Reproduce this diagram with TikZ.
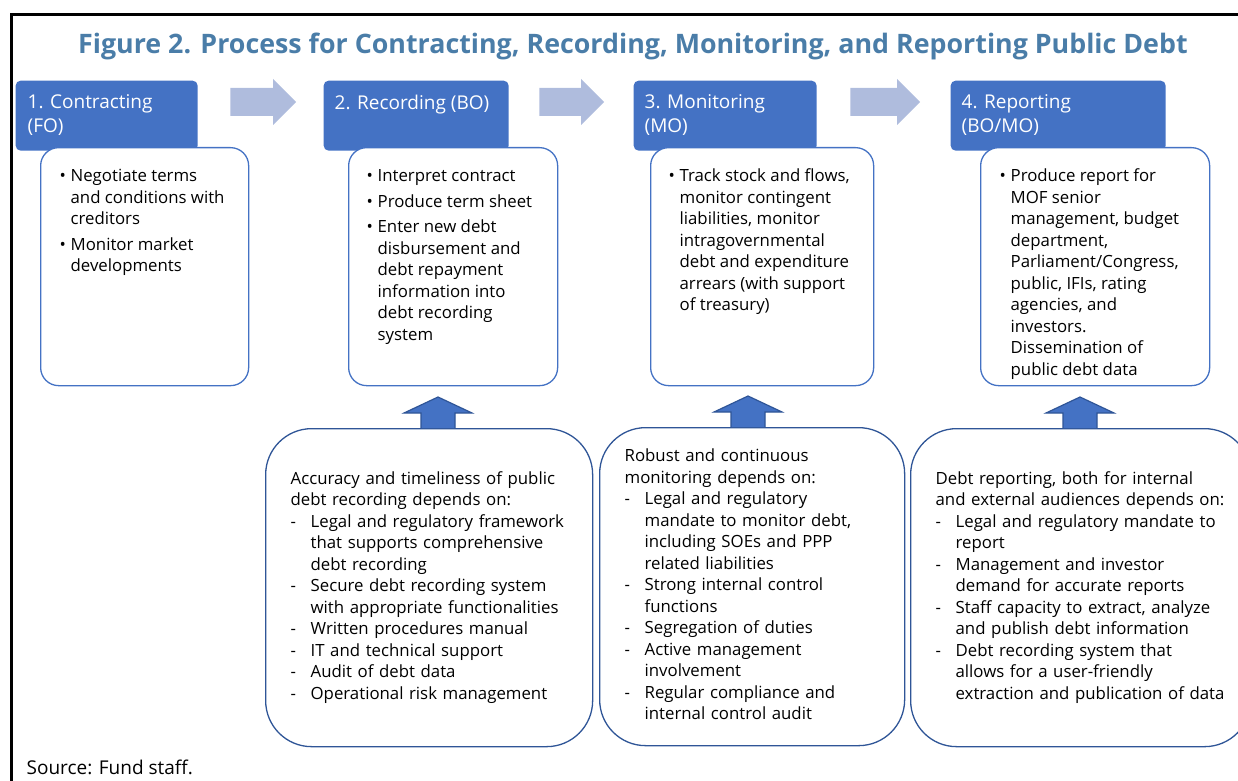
\documentclass[tikz,border=0pt]{standalone}
\usepackage{fontspec}
\setmainfont{Open Sans}
\usepackage{tikz}
\usetikzlibrary{calc}

\definecolor{headblue}{HTML}{4472C4}
\definecolor{edgeblue}{HTML}{2F5597}
\definecolor{flowblue}{HTML}{AFBCDD}
\definecolor{titleblue}{HTML}{4A7DA8}

\newcommand{\bodyfont}{\fontsize{8.4}{10.75}\selectfont}
\newcommand{\flowarrow}[2]{%
  \fill[flowblue] ($(#1)+(0,-14)$) -- ($(#2)+(-23,-14)$) -- ($(#2)+(-23,-23)$) -- (#2)
    -- ($(#2)+(-23,23)$) -- ($(#2)+(-23,14)$) -- ($(#1)+(0,14)$) -- cycle;}
\newcommand{\liftarrow}[1]{%
  \draw[fill=headblue, draw=edgeblue, line width=0.6pt] ($(#1)+(-17,0)$) -- ($(#1)+(-17,-15)$)
    -- ($(#1)+(-34,-15)$) -- ($(#1)+(0,-31)$) -- ($(#1)+(34,-15)$) -- ($(#1)+(17,-15)$) -- ($(#1)+(17,0)$);}

\begin{document}
\begin{tikzpicture}[x=0.5pt, y=-0.5pt, line width=0.65pt,
  headbox/.style={fill=headblue, rounded corners=2.5pt, anchor=north west, minimum height=35pt, inner sep=0pt},
  headtext/.style={anchor=north west, text=white, align=left, inner sep=0pt, font=\fontsize{9.5}{12.2}\selectfont},
  taskbox/.style={draw=headblue, fill=white, rounded corners=9pt, anchor=north west, minimum height=119pt, inner sep=0pt},
  tasktext/.style={anchor=north west, inner sep=0pt, font=\bodyfont},
  needbox/.style={draw=edgeblue, fill=white, rounded corners=23pt, anchor=north west, minimum height=159pt, inner xsep=12.5pt, inner ysep=0pt, align=left, font=\bodyfont}]
\useasboundingbox (0,0) rectangle (1238,781);

\draw[line width=1.5pt] (11,781) -- (11,15) -- (1238,15);
\node[text=titleblue, font=\fontsize{13.4}{16}\selectfont\bfseries] (title) at (633,46) {Figure 2. Process for Contracting, Recording, Monitoring, and Reporting Public Debt};

\node[headbox, minimum width=91pt] (h1) at (15,80) {};
\node[headbox, minimum width=92.5pt] (h2) at (323,80) {};
\node[headbox, minimum width=91.5pt] (h3) at (633,80) {};
\node[headbox, minimum width=107.5pt] (h4) at (950,80) {};
\node[headtext] (h1t) at ($(h1.north west)+(12,14)$) {1. Contracting\\(FO)};
\node[headtext] (h2t) at ($(h2.north west)+(11,14)$) {2. Recording (BO)};
\node[headtext] (h3t) at ($(h3.north west)+(11,14)$) {3. Monitoring\\(MO)};
\node[headtext] (h4t) at ($(h4.north west)+(11,14)$) {4. Reporting\\(BO/MO)};

\coordinate (f1s) at ($(h1.north east)+(32,22)$);
\coordinate (f1e) at ($(h2.north west)+(-27,22)$);
\flowarrow{f1s}{f1e}
\coordinate (f2s) at ($(h2.north east)+(30,22)$);
\coordinate (f2e) at ($(h3.north west)+(-29,22)$);
\flowarrow{f2s}{f2e}
\coordinate (f3s) at ($(h3.north east)+(33,22)$);
\coordinate (f3e) at ($(h4.north west)+(-30,22)$);
\flowarrow{f3s}{f3e}

\node[taskbox, minimum width=104pt] (w1) at (40,147) {};
\node[taskbox, minimum width=104.5pt] (w2) at (348,147) {};
\node[taskbox, minimum width=111.5pt] (w3) at (650,147) {};
\node[taskbox, minimum width=114.5pt] (w4) at (980,147) {};

\node[tasktext] (w1t) at ($(w1.north west)+(19,19)$) {\begin{tabular}{@{}p{5.5pt}@{}l@{}}
• & Negotiate terms\\ & and conditions with\\ & creditors\\[2pt]
• & Monitor market\\ & developments
\end{tabular}};
\node[tasktext] (w2t) at ($(w2.north west)+(18,19)$) {\begin{tabular}{@{}p{5.5pt}@{}l@{}}
• & Interpret contract\\[2pt]
• & Produce term sheet\\[2pt]
• & Enter new debt\\ & disbursement and\\ & debt repayment\\ & information into\\ & debt recording\\ & system
\end{tabular}};
\node[tasktext] (w3t) at ($(w3.north west)+(18,19)$) {\begin{tabular}{@{}p{5.5pt}@{}l@{}}
• & Track stock and flows,\\ & monitor contingent\\ & liabilities, monitor\\ & intragovernmental\\ & debt and expenditure\\ & arrears (with support\\ & of treasury)
\end{tabular}};
\node[tasktext] (w4t) at ($(w4.north west)+(19,19)$) {\begin{tabular}{@{}p{5.5pt}@{}l@{}}
• & Produce report for\\ & MOF senior\\ & management, budget\\ & department,\\ & Parliament/Congress,\\ & public, IFIs, rating\\ & agencies, and\\ & investors.\\ & Dissemination of\\ & public debt data
\end{tabular}};

\node[needbox, text width=138.5pt] (n1) at (265,428) {\begin{tabular}{@{}p{10pt}@{}l@{}}
\multicolumn{2}{@{}l@{}}{Accuracy and timeliness of public}\\
\multicolumn{2}{@{}l@{}}{debt recording depends on:}\\
- & Legal and regulatory framework\\ & that supports comprehensive\\ & debt recording\\
- & Secure debt recording system\\ & with appropriate functionalities\\
- & Written procedures manual\\
- & IT and technical support\\
- & Audit of debt data\\
- & Operational risk management
\end{tabular}};
\node[needbox, text width=127.5pt] (n2) at (599,427) {\begin{tabular}{@{}p{10pt}@{}l@{}}
\multicolumn{2}{@{}l@{}}{Robust and continuous}\\
\multicolumn{2}{@{}l@{}}{monitoring depends on:}\\
- & Legal and regulatory\\ & mandate to monitor debt,\\ & including SOEs and PPP\\ & related liabilities\\
- & Strong internal control\\ & functions\\
- & Segregation of duties\\
- & Active management\\ & involvement\\
- & Regular compliance and\\ & internal control audit
\end{tabular}};
\node[needbox, text width=145pt] (n3) at (910,428) {\begin{tabular}{@{}p{10pt}@{}l@{}}
\multicolumn{2}{@{}l@{}}{Debt reporting, both for internal}\\
\multicolumn{2}{@{}l@{}}{and external audiences depends on:}\\
- & Legal and regulatory mandate to\\ & report\\
- & Management and investor\\ & demand for accurate reports\\
- & Staff capacity to extract, analyze\\ & and publish debt information\\
- & Debt recording system that\\ & allows for a user-friendly\\ & extraction and publication of data
\end{tabular}};

\coordinate (u1) at ($(n1.north west)+(173,0)$);
\liftarrow{u1}
\coordinate (u2) at ($(n2.north west)+(149,0)$);
\liftarrow{u2}
\coordinate (u3) at ($(n3.north west)+(170,0)$);
\liftarrow{u3}

\node[anchor=west, inner sep=0pt, font=\fontsize{9.5}{12}\selectfont] (src) at (26,767) {Source: Fund staff.};
\end{tikzpicture}
\end{document}
